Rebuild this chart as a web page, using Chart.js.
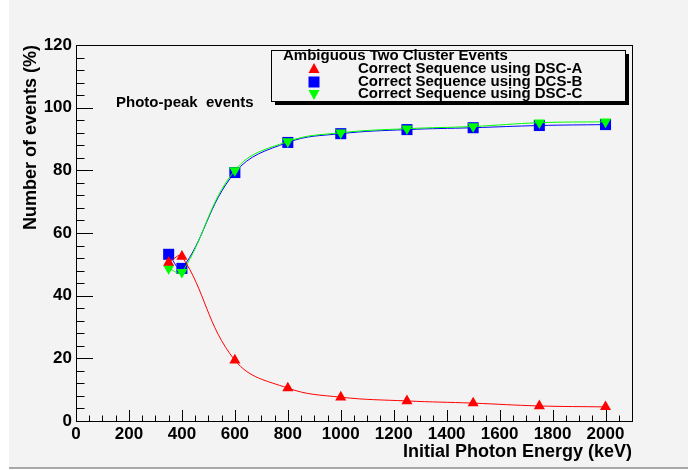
<!DOCTYPE html>
<html>
<head>
<meta charset="utf-8">
<script src="https://cdn.jsdelivr.net/npm/chart.js@4.4.1/dist/chart.umd.min.js"></script>
<style>
  html, body { margin: 0; padding: 0; background: #ffffff; }
  #frame { position: absolute; left: 9px; top: 0; width: 679px; height: 467px; background: #f3f3f3; border-bottom: 2px solid #a8a8a8; }
  #wrap { position: absolute; left: 0; top: 0; width: 688px; height: 470px; }
</style>
</head>
<body>
<div id="frame"></div>
<div id="wrap"><canvas id="effChart" width="688" height="470"></canvas></div>
<script>
// photon energies (keV)
const energies = [350, 400, 600, 800, 1000, 1250, 1500, 1750, 2000];
// percentage of events with correct sequence
const dscA = [50.6, 52.5, 19.4, 10.5, 7.6, 6.4, 5.7, 4.8, 4.5];
const dcsB = [53.2, 48.7, 79.3, 88.9, 91.7, 93.0, 93.6, 94.3, 94.6];
const dscC = [48.7, 47.5, 80.0, 89.2, 92.0, 93.3, 94.0, 95.2, 95.5];

const legendTitle = 'Ambiguous Two Cluster Events';
const legendLabels = ['Correct Sequence using DSC-A', 'Correct Sequence using DCS-B', 'Correct Sequence using DSC-C'];
const seriesColors = ['#ff0000', '#0000ff', '#00ff00'];
const noteText = 'Photo-peak  events';

const FONT = '"Liberation Sans", Arial, Helvetica, sans-serif';

const toPoints = vals => energies.map((e, i) => ({ x: e, y: vals[i] }));

// ROOT style ticks drawn inside the frame, plus the closed frame
const innerTicks = {
  id: 'innerTicks',
  afterDraw(chart) {
    const { ctx, chartArea: a, scales: { x, y } } = chart;
    ctx.save();
    ctx.strokeStyle = '#000';
    ctx.lineWidth = 1;
    ctx.beginPath();
    for (let v = 0; v <= 120; v += 4) {
      const py = Math.round(y.getPixelForValue(v)) + 0.5;
      const len = v % 20 === 0 ? 17 : 8.5;
      ctx.moveTo(a.left, py);
      ctx.lineTo(a.left + len, py);
    }
    for (let v = 0; v <= 2100; v += 50) {
      const px = Math.round(x.getPixelForValue(v)) + 0.5;
      const len = v % 200 === 0 ? 11 : 5.5;
      ctx.moveTo(px, a.bottom);
      ctx.lineTo(px, a.bottom - len);
    }
    ctx.stroke();
    ctx.strokeRect(Math.round(a.left) + 0.5, Math.round(a.top) + 0.5,
      Math.round(a.right - a.left), Math.round(a.bottom - a.top));
    ctx.restore();
  }
};

// legend box with shadow, and the free text label
const boxLegend = {
  id: 'boxLegend',
  afterDraw(chart) {
    const ctx = chart.ctx;
    const bx = 271, by = 50, bw = 354, bh = 51;
    ctx.save();
    ctx.fillStyle = '#000';
    ctx.fillRect(bx + 4, by + 4, bw, bh);
    ctx.fillStyle = '#f3f3f3';
    ctx.fillRect(bx, by, bw, bh);
    ctx.strokeStyle = '#000';
    ctx.lineWidth = 1;
    ctx.strokeRect(bx + 0.5, by + 0.5, bw, bh);

    ctx.fillStyle = '#000';
    ctx.textBaseline = 'middle';
    ctx.font = 'bold 15px ' + FONT;
    ctx.fillText(legendTitle, 283, 56);
    const rows = [69, 82, 94];
    legendLabels.forEach((t, i) => {
      ctx.fillStyle = '#000';
      ctx.fillText(t, 358, rows[i]);
      ctx.fillStyle = seriesColors[i];
      const mx = 314, my = rows[i];
      ctx.beginPath();
      if (i === 0) {
        ctx.moveTo(mx, my - 6); ctx.lineTo(mx + 5.5, my + 4); ctx.lineTo(mx - 5.5, my + 4);
      } else if (i === 1) {
        ctx.rect(mx - 5.5, my - 5.5, 11, 11);
      } else {
        ctx.moveTo(mx, my + 6); ctx.lineTo(mx + 5.5, my - 4); ctx.lineTo(mx - 5.5, my - 4);
      }
      ctx.closePath();
      ctx.fill();
    });

    ctx.fillStyle = '#000';
    ctx.font = 'bold 15px ' + FONT;
    ctx.fillText(noteText, 116, 103);
    ctx.restore();
  }
};

const ctx = document.getElementById('effChart').getContext('2d');
new Chart(ctx, {
  type: 'scatter',
  data: {
    datasets: [
      {
        label: legendLabels[0],
        data: toPoints(dscA),
        showLine: true,
        borderColor: seriesColors[0],
        backgroundColor: seriesColors[0],
        borderWidth: 1,
        tension: 0.4,
        pointStyle: 'triangle',
        pointRadius: 6.4,
        pointBorderWidth: 0,
        order: 0
      },
      {
        label: legendLabels[1],
        data: toPoints(dcsB),
        showLine: true,
        borderColor: seriesColors[1],
        backgroundColor: seriesColors[1],
        borderWidth: 1,
        tension: 0.4,
        pointStyle: 'rect',
        pointRadius: 7.8,
        pointBorderWidth: 0,
        order: 2
      },
      {
        label: legendLabels[2],
        data: toPoints(dscC),
        showLine: true,
        borderColor: seriesColors[2],
        backgroundColor: seriesColors[2],
        borderWidth: 1,
        tension: 0.4,
        pointStyle: 'triangle',
        pointRotation: 180,
        pointRadius: 6.4,
        pointBorderWidth: 0,
        order: 1
      }
    ]
  },
  options: {
    responsive: false,
    animation: false,
    layout: { padding: { left: 0, right: 56, top: 45, bottom: 0 } },
    plugins: {
      legend: { display: false },
      tooltip: { enabled: false }
    },
    scales: {
      x: {
        type: 'linear',
        min: 0,
        max: 2100,
        afterFit(scale) { scale.height = 49; },
        grid: { display: false, drawTicks: false },
        border: { display: true, color: '#000', width: 1 },
        ticks: {
          stepSize: 200,
          includeBounds: false,
          autoSkip: false,
          maxRotation: 0,
          padding: 3,
          color: '#000',
          font: { family: FONT, size: 17, weight: 'bold' },
          callback: v => String(v)
        },
        title: {
          display: true,
          text: 'Initial Photon Energy (keV)',
          align: 'end',
          color: '#000',
          font: { family: FONT, size: 18, weight: 'bold' },
          padding: { top: 0, bottom: 7 }
        }
      },
      y: {
        min: 0,
        max: 120,
        afterFit(scale) { scale.width = 76; },
        grid: { display: false, drawTicks: false },
        border: { display: true, color: '#000', width: 1 },
        ticks: {
          stepSize: 20,
          padding: 4,
          color: '#000',
          font: { family: FONT, size: 17, weight: 'bold' }
        },
        title: {
          display: true,
          text: 'Number of events (%)',
          align: 'end',
          color: '#000',
          font: { family: FONT, size: 18, weight: 'bold' },
          padding: { top: 20, bottom: 0 }
        }
      }
    }
  },
  plugins: [innerTicks, boxLegend]
});
</script>
</body>
</html>
